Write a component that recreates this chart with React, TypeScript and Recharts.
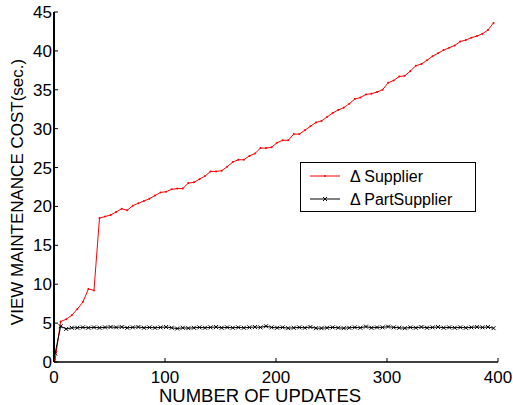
import React from 'react';
import { LineChart, Line, XAxis, YAxis, Label } from 'recharts';

const updates = [
  1, 6, 11, 16, 21, 26, 31, 36, 41, 46, 51, 56, 61, 66, 71, 76, 81, 86, 91, 96,
  101, 106, 111, 116, 121, 126, 131, 136, 141, 146, 151, 156, 161, 166, 171, 176, 181, 186, 191, 196,
  201, 206, 211, 216, 221, 226, 231, 236, 241, 246, 251, 256, 261, 266, 271, 276, 281, 286, 291, 296,
  301, 306, 311, 316, 321, 326, 331, 336, 341, 346, 351, 356, 361, 366, 371, 376, 381, 386, 391, 396,
];

const supplier = [
  0.3, 5.2, 5.5, 6.0, 6.8, 7.7, 9.4, 9.2, 18.5, 18.7, 18.9, 19.3, 19.7, 19.5, 20.1, 20.4, 20.7, 21.0, 21.4, 21.8,
  21.9, 22.2, 22.3, 22.3, 23.0, 23.1, 23.5, 23.9, 24.5, 24.5, 24.6, 25.1, 25.7, 26.0, 26.0, 26.5, 26.8, 27.5, 27.5, 27.6,
  28.2, 28.5, 28.5, 29.3, 29.3, 29.8, 30.3, 30.8, 31.0, 31.5, 32.0, 32.4, 32.7, 33.2, 33.8, 34.0, 34.4, 34.5, 34.7, 35.0,
  35.9, 36.2, 36.7, 36.8, 37.4, 38.1, 38.3, 38.8, 39.3, 39.7, 40.1, 40.4, 40.7, 41.2, 41.4, 41.7, 41.9, 42.2, 42.7, 43.6,
];

const partSupplier = [
  1.1, 4.6, 4.25, 4.4, 4.4, 4.45, 4.4, 4.45, 4.4, 4.45, 4.5, 4.45, 4.5, 4.4, 4.45, 4.5, 4.4, 4.45, 4.4, 4.45,
  4.5, 4.4, 4.3, 4.4, 4.35, 4.4, 4.45, 4.4, 4.45, 4.5, 4.4, 4.45, 4.4, 4.45, 4.4, 4.45, 4.5, 4.45, 4.6, 4.45,
  4.4, 4.45, 4.35, 4.4, 4.45, 4.4, 4.5, 4.35, 4.35, 4.4, 4.45, 4.4, 4.35, 4.4, 4.45, 4.4, 4.55, 4.4, 4.45, 4.45,
  4.55, 4.45, 4.4, 4.35, 4.45, 4.4, 4.5, 4.4, 4.45, 4.5, 4.4, 4.45, 4.4, 4.45, 4.4, 4.45, 4.5, 4.45, 4.5, 4.35,
];

const xTicks = [0, 100, 200, 300, 400];
const yTicks = [0, 5, 10, 15, 20, 25, 30, 35, 40, 45];

const data = updates.map((u, i) => ({ u, supplier: supplier[i], part: partSupplier[i] }));

const font = 'Liberation Sans, Arial, Helvetica, sans-serif';

const RedDot = (props: any) => {
  const { cx, cy } = props;
  if (cx == null || cy == null) return null;
  return <circle cx={cx} cy={cy} r={1} fill="#ff0000" stroke="none" />;
};

const Cross = (props: any) => {
  const { cx, cy } = props;
  if (cx == null || cy == null) return null;
  const s = 2;
  return (
    <path
      d={`M${cx - s},${cy - s}L${cx + s},${cy + s}M${cx - s},${cy + s}L${cx + s},${cy - s}`}
      stroke="#000"
      strokeWidth={1}
      fill="none"
    />
  );
};

// legend drawn as an overlay so it doesn't eat plot space
const LegendBox = () => (
  <div
    style={{
      position: 'absolute',
      left: 300,
      top: 162,
      width: 176,
      height: 50,
      border: '1px solid #000',
      background: '#fff',
      boxSizing: 'border-box',
    }}
  >
    <svg width={174} height={48} style={{ display: 'block' }}>
      <line x1={9} y1={13} x2={39} y2={13} stroke="#ff0000" strokeWidth={1} />
      <circle cx={24} cy={13} r={1} fill="#ff0000" />
      <text x={49} y={19} fontSize={16} fontFamily={font}>Δ Supplier</text>
      <line x1={9} y1={36} x2={39} y2={36} stroke="#000" strokeWidth={1} />
      <path d="M22,34L26,38M22,38L26,34" stroke="#000" strokeWidth={1} />
      <text x={49} y={42} fontSize={16} fontFamily={font}>Δ PartSupplier</text>
    </svg>
  </div>
);

const XTitle = () => (
  <text x={260} y={402} textAnchor="middle" fontSize={18.5} fontFamily={font} fill="#000">
    NUMBER OF UPDATES
  </text>
);

const YTitle = () => (
  <text
    x={23}
    y={192}
    textAnchor="middle"
    fontSize={17}
    fontFamily={font}
    fill="#000"
    transform="rotate(-90, 23, 192)"
  >
    VIEW MAINTENANCE COST(sec.)
  </text>
);

export default function App() {
  const tickStyle = { fill: '#000', fontSize: 17, fontFamily: font };
  return (
    <div style={{ position: 'fixed', left: 0, top: 0, width: 513, height: 405, background: '#fff' }}>
      <LineChart
        width={513}
        height={405}
        data={data}
        margin={{ top: 12, right: 15, bottom: 13, left: 14 }}
      >
        <XAxis
          dataKey="u"
          type="number"
          domain={[0, 400]}
          ticks={xTicks}
          tickSize={-4}
          tickMargin={13}
          height={30}
          tick={tickStyle}
          axisLine={{ stroke: '#000', strokeWidth: 1.5 }}
          tickLine={{ stroke: '#000' }}
        >
          <Label content={<XTitle />} />
        </XAxis>
        <XAxis
          xAxisId="top"
          orientation="top"
          dataKey="u"
          type="number"
          domain={[0, 400]}
          ticks={xTicks}
          tickSize={-4}
          height={0}
          tick={false}
          axisLine={{ stroke: '#000', strokeWidth: 1.5 }}
          tickLine={{ stroke: '#000' }}
        />
        <YAxis
          type="number"
          domain={[0, 45]}
          ticks={yTicks}
          tickSize={-4}
          tickMargin={6}
          width={40}
          tick={tickStyle}
          axisLine={{ stroke: '#000', strokeWidth: 2 }}
          tickLine={{ stroke: '#000' }}
        >
          <Label content={<YTitle />} />
        </YAxis>
        <YAxis
          yAxisId="right"
          orientation="right"
          type="number"
          domain={[0, 45]}
          ticks={yTicks}
          tickSize={-4}
          width={0}
          tick={false}
          axisLine={{ stroke: '#000', strokeWidth: 2 }}
          tickLine={{ stroke: '#000' }}
        />
        <Line
          dataKey="supplier"
          stroke="#ff0000"
          strokeWidth={1}
          dot={<RedDot />}
          isAnimationActive={false}
        />
        <Line
          dataKey="part"
          stroke="#000"
          strokeWidth={1}
          dot={<Cross />}
          isAnimationActive={false}
        />
      </LineChart>
      <LegendBox />
    </div>
  );
}
